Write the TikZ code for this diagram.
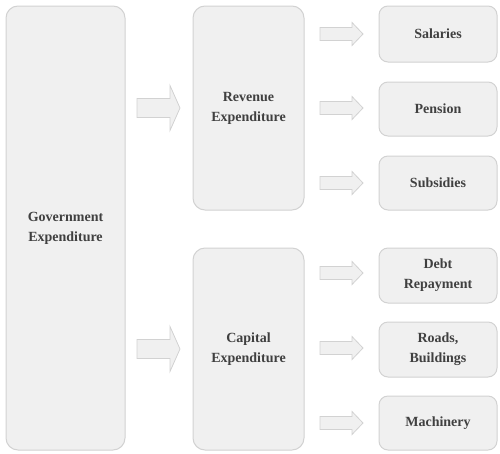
\documentclass[tikz,border=0pt]{standalone}
\usepackage{fontspec}
\setmainfont{Liberation Serif}
\definecolor{boxfill}{HTML}{F0F0F0}
\definecolor{boxline}{HTML}{D2D2D2}
\definecolor{txt}{HTML}{404040}
\begin{document}
\begin{tikzpicture}[x=1pt,y=-1pt,
  box/.style={draw=boxline, fill=boxfill, rounded corners=12pt, line width=1pt, inner sep=0pt,
     text=txt, font=\bfseries\fontsize{14}{20}\selectfont, align=center},
  arr/.style={draw=boxline, fill=boxfill, line width=0.8pt, line join=miter}
]
\useasboundingbox (0,0) rectangle (500,453);
\node[box, minimum width=119pt, minimum height=444pt] (gov) at (65.5,228) {Government\\Expenditure};
\node[box, minimum width=111pt, minimum height=204pt] (rev) at (248.5,108) {Revenue\\Expenditure};
\node[box, minimum width=111pt, minimum height=202pt] (cap) at (248.5,349) {Capital\\Expenditure};
\node[box, minimum width=118pt, minimum height=56pt, rounded corners=9pt] (sal) at (438,34) {Salaries};
\node[box, minimum width=118pt, minimum height=54pt, rounded corners=9pt] (pen) at (438,109) {Pension};
\node[box, minimum width=118pt, minimum height=54pt, rounded corners=9pt] (sub) at (438,183) {Subsidies};
\node[box, minimum width=118pt, minimum height=55pt, rounded corners=9pt] (debt) at (438,275.5) {Debt\\Repayment};
\node[box, minimum width=118pt, minimum height=55pt, rounded corners=9pt] (road) at (438,349.5) {Roads,\\Buildings};
\node[box, minimum width=118pt, minimum height=54pt, rounded corners=9pt] (mach) at (438,423) {Machinery};
% big arrows: tail at x=137, tip at x=180
\foreach \n/\yy in {a1/108,a2/349}{
  \coordinate (\n) at (137,\yy);
  \draw[arr, shift={(\n)}] (0,-9.5) -- (33,-9.5) -- (33,-22.5) -- (43,0) -- (33,22.5) -- (33,9.5) -- (0,9.5) -- cycle;
}
% small arrows: tail at x=320, tip at x=363
\foreach \n/\yy in {s1/34,s2/108,s3/183,s4/273,s5/348,s6/423}{
  \coordinate (\n) at (320,\yy);
  \draw[arr, shift={(\n)}] (0,-6.5) -- (32,-6.5) -- (32,-11.5) -- (43,0) -- (32,11.5) -- (32,6.5) -- (0,6.5) -- cycle;
}
\end{tikzpicture}
\end{document}
